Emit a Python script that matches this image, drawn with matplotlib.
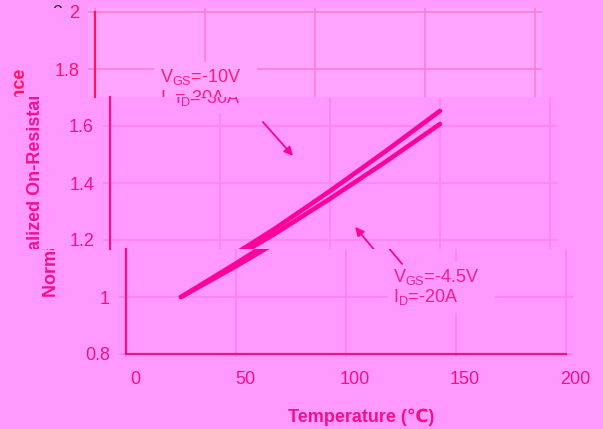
import matplotlib.pyplot as plt
from matplotlib.patches import FancyArrowPatch
from matplotlib.transforms import ScaledTranslation

plt.rcParams['font.family'] = ['Liberation Sans', 'DejaVu Sans']

# normalized on-resistance vs junction temperature
temp = [25, 50, 75, 100, 125, 150]
rds_10v = [1.0, 1.118, 1.24, 1.372, 1.51, 1.653]
rds_45v = [1.0, 1.108, 1.222, 1.345, 1.473, 1.607]

x_ticks = [0, 50, 100, 150, 200]
y_ticks = [0.8, 1.0, 1.2, 1.4, 1.6, 1.8, 2.0]

label_10v = '$\\mathregular{V_{GS}}$=-10V   \n$\\mathregular{I_D}$=-30A'
label_45v = '$\\mathregular{V_{GS}}$=-4.5V   \n$\\mathregular{I_D}$=-20A'

W, H = 603, 429
X0, XS = 110, 2.2      # px of 0 degC, px per degC
Y2, YS = 12, 285       # px of 2.0, px per unit
LINE = '#FF0099'

def y_at(px):
    return 2.0 - (px - Y2) / YS

def rect(left, top, right, bottom):
    return [left / W, 1 - bottom / H, (right - left) / W, (bottom - top) / H]

fig = plt.figure(figsize=(W / 100, H / 100), dpi=100, facecolor='#FF99FF')

# (top px, bottom px, x shift px, background, axis colour, grid colour, text colour)
bands = [
    (8, 97, -15, '#FFA4FF', '#FF1460', '#FF80D2', '#F5207A'),
    (97, 249, 0, '#FF99FF', '#F5108C', '#FF86F2', '#F0208F'),
    (249, 429, 16, '#FF99FF', '#F51085', '#FF82F0', '#F0208A'),
]

for i, (top, bot, dx, bg, acc, gcol, tcol) in enumerate(bands):
    back = fig.add_axes(rect(0, top, W, bot), zorder=0)
    back.set_facecolor(bg)
    back.set_axis_off()
    yl = back.text((36 + dx) / W, (bot - 182.5) / (bot - top),
                   'Normalized On-Resistance', transform=back.transAxes,
                   rotation=90, ha='center', va='center', fontsize=13,
                   fontweight='bold', color=acc, clip_on=True)
    yl.set_clip_box(back.bbox)

    pbot = min(bot, 357)
    ax = fig.add_axes(rect(X0 + dx - 3 * XS, top, X0 + dx + 203 * XS, pbot),
                      zorder=1)
    ax.set_facecolor(bg)
    ylo, yhi = y_at(pbot), y_at(top)
    ax.set_xlim(-3, 203)
    ax.set_ylim(ylo, yhi)

    for s in ['top', 'right', 'bottom']:
        ax.spines[s].set_visible(False)
    ax.spines['left'].set_position(('data', 0))
    ax.spines['left'].set_bounds(max(0.8, ylo), min(2.0, yhi))
    ax.spines['left'].set_color(acc)
    ax.spines['left'].set_linewidth(1.6)

    ax.set_xticks(x_ticks)
    yt = [t for t in y_ticks if ylo < t < yhi + 0.001]
    ax.set_yticks(yt)
    ax.set_yticklabels(['%g' % t for t in yt])
    ax.tick_params(length=0, labelsize=13, labelcolor=acc, pad=11.5)
    ax.tick_params(axis='x', labelbottom=False)
    ax.grid(True, color=gcol, lw=1.3)

    ax.plot(temp, rds_10v, color=LINE, lw=3.3, solid_capstyle='round')
    ax.plot(temp, rds_45v, color=LINE, lw=3.3, solid_capstyle='round')

    for x, y, s in [(29.5, 1.735, label_10v), (121.4, 1.035, label_45v)]:
        t = ax.text(x, y, s, ha='left', va='center', fontsize=13,
                    color=tcol, linespacing=1.05, zorder=4, clip_on=True,
                    bbox=dict(boxstyle='square,pad=0.3', fc=bg, ec='none'))
        t.set_clip_box(ax.bbox)

    for a, b in [((69.5, 1.614), (83.2, 1.495)), ((125.5, 1.116), (111.4, 1.246))]:
        ax.add_patch(FancyArrowPatch(a, b, arrowstyle='-|>', mutation_scale=13,
                                     lw=1.3, color=LINE, shrinkA=0, shrinkB=0,
                                     zorder=5))

    if i == 2:
        ax.spines['bottom'].set_visible(True)
        ax.spines['bottom'].set_position(('data', 0.8))
        ax.spines['bottom'].set_bounds(0, 200)
        ax.spines['bottom'].set_color(acc)
        ax.spines['bottom'].set_linewidth(1.6)
        ax.tick_params(axis='x', labelbottom=True, pad=12)
        shift = ScaledTranslation(9 / 100, 0, fig.dpi_scale_trans)
        for lab in ax.get_xticklabels():
            lab.set_transform(lab.get_transform() + shift)
        fig.text(361 / W, 1 - 417 / H, 'Temperature (℃)', ha='center',
                 va='center', fontsize=13, fontweight='bold', color=acc)

# thin strip along the top edge
strip = fig.add_axes(rect(0, 0, W, 8), zorder=5)
strip.set_facecolor('#FFA3AC')
strip.set_axis_off()
edge = fig.add_axes(rect(0, 0, W, 2), zorder=6)
edge.set_facecolor('#FFEFF0')
edge.set_axis_off()
t2 = strip.text(57 / W, -5 / 8, '2', transform=strip.transAxes, ha='center',
                va='center', fontsize=13, color='#333333', clip_on=True)
t2.set_clip_box(strip.bbox)

fig.savefig('out.png', dpi=100, facecolor=fig.get_facecolor())
